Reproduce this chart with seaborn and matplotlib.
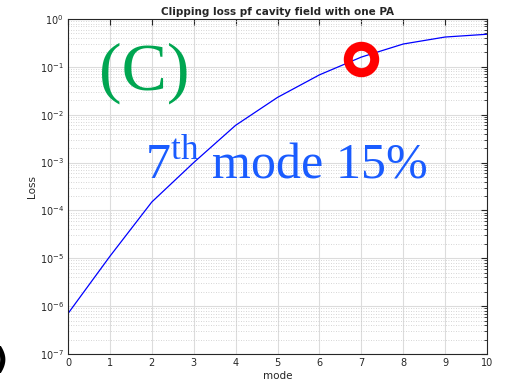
import numpy as np
import pandas as pd
import matplotlib
matplotlib.use("Agg")
import matplotlib.pyplot as plt
import seaborn as sns
from matplotlib.ticker import LogLocator, FixedLocator, NullFormatter

modes = [0, 1, 2, 3, 4, 5, 6, 7, 8, 9, 10]
loss = [7e-7, 1.1e-5, 1.5e-4, 1.0e-3, 6.0e-3, 2.3e-2, 6.8e-2, 0.16, 0.30, 0.42, 0.48]
mark_mode = [7]
mark_loss = [0.147]
title = "Clipping loss pf cavity field with one PA"

sns.set_style("white")
df = pd.DataFrame({"mode": modes, "Loss": loss})
fig = plt.figure(figsize=(5.06, 3.86), dpi=100)
ax = fig.add_axes([68/506, 1-354/386, (487-68)/506, (354-19)/386])

sns.lineplot(data=df, x="mode", y="Loss", ax=ax, color="#0000ff", lw=0.9)
ax.set_yscale("log")
ax.set_xlim(0, 10)
ax.set_ylim(1e-7, 1)
ax.plot(mark_mode, mark_loss, "o", ms=19, mfc="none", mec="#ff0000", mew=6.5, zorder=5)

ax.xaxis.set_major_locator(FixedLocator(modes))
ax.yaxis.set_major_locator(LogLocator(base=10, numticks=20))
ax.yaxis.set_minor_locator(LogLocator(base=10, subs=np.arange(2, 10), numticks=100))
ax.yaxis.set_minor_formatter(NullFormatter())
ax.grid(True, which="major", color="#dcdcdc", lw=0.8)
ax.grid(True, which="minor", axis="y", color="#c8c8c8", lw=0.6, ls=(0, (1, 2)))
ax.tick_params(which="both", direction="in", top=True, right=True, labelsize=7, colors="#262626", pad=3)
ax.tick_params(which="major", length=4, width=0.8)
ax.tick_params(which="minor", length=2, width=0.6)
for s in ax.spines.values():
    s.set_color("#262626"); s.set_linewidth(0.8)
ax.set_xlabel("mode", fontsize=7.5, labelpad=2)
ax.set_ylabel("Loss", fontsize=7.5, labelpad=2)
ax.set_title(title, fontsize=7.5, fontweight="bold", pad=3)

ax.text(0.075, 0.79, "(C)", transform=ax.transAxes, fontsize=49, color="#00a651",
        family="Liberation Serif", va="baseline")
ax.text(0.183, 0.525, "7$^{\\mathregular{th}}$ mode 15%", transform=ax.transAxes, fontsize=36,
        color="#1a5cff", family="Liberation Serif", va="baseline")
fig.text(-0.012, 0.045, ")", fontsize=22, fontweight="bold", color="black")

fig.savefig("out.png", dpi=100)
